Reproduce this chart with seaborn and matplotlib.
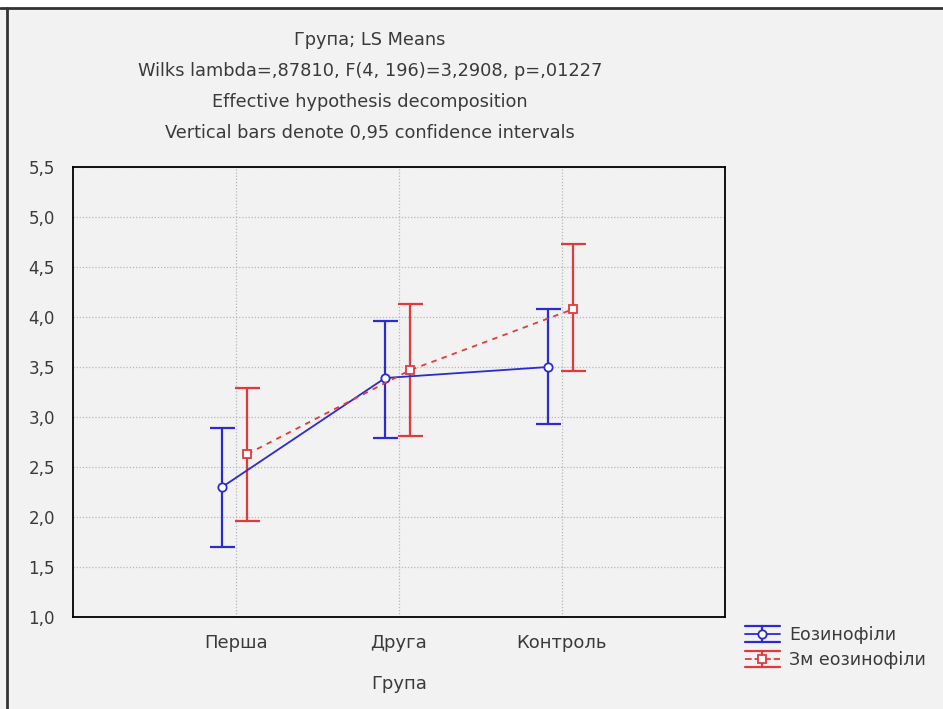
import numpy as np
import pandas as pd
import matplotlib
matplotlib.use("Agg")
import matplotlib.pyplot as plt
from matplotlib.lines import Line2D
from matplotlib.legend_handler import HandlerBase
import seaborn as sns

# ---- data ----
groups = ["Перша", "Друга", "Контроль"]
series_names = ["Еозинофіли", "Зм еозинофіли"]
eos_mean = [2.30, 3.39, 3.50]
eos_low = [1.70, 2.79, 2.93]
eos_high = [2.89, 3.96, 4.08]
zm_mean = [2.63, 3.47, 4.08]
zm_low = [1.96, 2.81, 3.46]
zm_high = [3.29, 4.13, 4.73]
yticks = [1.0, 1.5, 2.0, 2.5, 3.0, 3.5, 4.0, 4.5, 5.0, 5.5]
title_lines = [
    "Група; LS Means",
    "Wilks lambda=,87810, F(4, 196)=3,2908, p=,01227",
    "Effective hypothesis decomposition",
    "Vertical bars denote 0,95 confidence intervals",
]

BLUE = "#2b2bd0"
RED = "#e23a3a"
BG = "#f2f2f2"
TXT = "#3a3a3a"

sns.set_theme(style="white")
plt.rcParams["font.family"] = ["DejaVu Sans"]

offsets = {series_names[0]: -0.085, series_names[1]: 0.07}
rows = []
for name, m, lo, hi in [(series_names[0], eos_mean, eos_low, eos_high),
                        (series_names[1], zm_mean, zm_low, zm_high)]:
    for i, g in enumerate(groups):
        rows.append({"x": i + offsets[name], "mean": m[i], "low": lo[i], "high": hi[i],
                     "series": name, "group": g})
df = pd.DataFrame(rows)

fig = plt.figure(figsize=(9.43, 7.09), dpi=100, facecolor=BG)
ax = fig.add_axes([73 / 943, 1 - 617 / 709, (725 - 73) / 943, (617 - 167) / 709])
ax.set_facecolor(BG)

palette = {series_names[0]: BLUE, series_names[1]: RED}
marker_map = {series_names[0]: "o", series_names[1]: "s"}
sns.lineplot(data=df, x="x", y="mean", hue="series", style="series",
             palette=palette, markers=marker_map,
             dashes={series_names[0]: "", series_names[1]: (3, 3)},
             markersize=6, linewidth=1.3, ax=ax, legend=False, zorder=3)
for ln in ax.lines:
    ln.set_markeredgecolor(ln.get_color())
    ln.set_markerfacecolor("white")
    ln.set_markeredgewidth(1.3)

for name in series_names:
    sub = df[df["series"] == name]
    ax.errorbar(sub["x"], sub["mean"],
                yerr=[sub["mean"] - sub["low"], sub["high"] - sub["mean"]],
                fmt="none", ecolor=palette[name], elinewidth=1.6, capsize=9,
                capthick=1.6, zorder=2)


class IBarHandler(HandlerBase):
    def create_artists(self, legend, orig_handle, xdescent, ydescent, width,
                       height, fontsize, trans):
        c = orig_handle.get_color()
        ls = orig_handle.get_linestyle()
        mk = orig_handle.get_marker()
        x0, x1 = -xdescent, width - xdescent
        y0, y1 = -ydescent, height - ydescent
        xm, ym = (x0 + x1) / 2, (y0 + y1) / 2
        arts = [
            Line2D([x0, x1], [y1, y1], color=c, lw=1.6),
            Line2D([x0, x1], [y0, y0], color=c, lw=1.6),
            Line2D([xm, xm], [y0, y1], color=c, lw=1.6),
            Line2D([x0, x1], [ym, ym], color=c, lw=1.3, ls=ls),
            Line2D([xm], [ym], color=c, marker=mk, markersize=6,
                   markerfacecolor="white", markeredgecolor=c, markeredgewidth=1.3),
        ]
        for a in arts:
            a.set_transform(trans)
        return arts


handles = []
for name in series_names:
    handles.append(Line2D([], [], color=palette[name],
                          ls="-" if name == series_names[0] else (0, (2, 2)),
                          marker=marker_map[name]))

ax.set_xlim(-1, 3)
ax.set_ylim(1.0, 5.5)
ax.set_xticks(range(len(groups)))
ax.set_xticklabels(groups)
ax.set_yticks(yticks)
ax.set_yticklabels([f"{v:.1f}".replace(".", ",") for v in yticks])
ax.grid(True, color="#b8b8b8", linestyle=(0, (1, 1.5)), linewidth=0.9)
ax.set_axisbelow(True)
for s in ax.spines.values():
    s.set_color("black")
    s.set_linewidth(1.3)
ax.tick_params(axis="y", direction="in", length=4, width=1, color="black",
               labelsize=12, labelcolor=TXT, pad=13)
ax.tick_params(axis="x", direction="in", length=0, labelsize=13, labelcolor=TXT, pad=12)
ax.set_xlabel("Група", fontsize=13, color=TXT, labelpad=17)
ax.set_ylabel("")

for i, t in enumerate(title_lines):
    fig.text(370 / 943, 1 - (40 + 31 * i) / 709, t, ha="center", va="center",
             fontsize=12.8, color=TXT)

hmap = {h: IBarHandler() for h in handles}
leg = fig.legend(handles, series_names, loc="upper left",
                 bbox_to_anchor=(745 / 943, 1 - 626 / 709), frameon=False,
                 fontsize=12.5, handler_map=hmap, borderpad=0, borderaxespad=0,
                 handlelength=2.0, handleheight=1.0, labelspacing=0.4,
                 handletextpad=0.55)
for t in leg.get_texts():
    t.set_color(TXT)

# outer frame (top and left)
fig.patches.append(plt.Rectangle((0, 1 - 8 / 709), 1, 8 / 709, transform=fig.transFigure,
                                 facecolor="white", edgecolor="none", zorder=-1))
fig.add_artist(Line2D([0, 1], [1 - 8 / 709] * 2, transform=fig.transFigure, color="#333333", lw=2))
fig.add_artist(Line2D([7 / 943] * 2, [0, 1 - 8 / 709], transform=fig.transFigure, color="#333333", lw=2))

fig.savefig("out.png", dpi=100, facecolor=BG)
